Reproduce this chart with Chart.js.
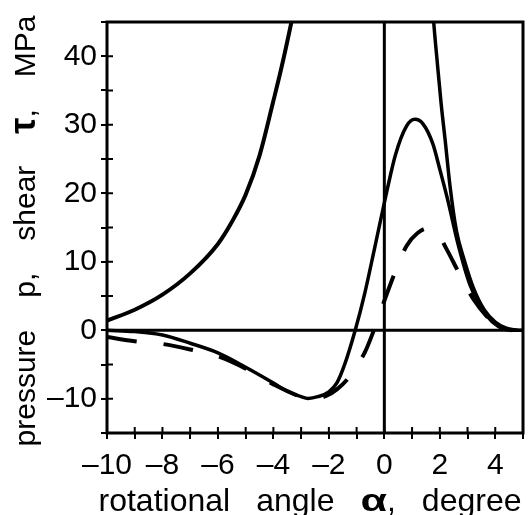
<!DOCTYPE html>
<html>
<head>
<meta charset="utf-8">
<script src="https://cdn.jsdelivr.net/npm/chart.js@4.4.0/dist/chart.umd.min.js"></script>
<style>
  html, body { margin: 0; padding: 0; background: #fff; }
  #wrap { width: 532px; height: 515px; }
</style>
</head>
<body>
<div id="wrap"><canvas id="angleChart" width="532" height="515"></canvas></div>
<script>
// values: angle in degree, value in MPa

// steep solid curve on the left side
const riseAngle = [-10, -9, -8, -7, -6, -5.5, -5, -4.5, -4, -3.7, -3.35, -3.0];
const riseValue = [1.4, 3.0, 5.2, 8.3, 12.6, 15.8, 19.8, 25.5, 33.5, 38.5, 45, 52];

// solid wave (dip then peak)
const waveAngle = [-10, -9, -8, -7, -6, -5, -4, -3.5, -3, -2.75, -2.4, -2, -1.7, -1.44, -1.05,
  -0.7, -0.35, 0, 0.4, 0.8, 1.1, 1.4, 1.75, 2.0, 2.3, 2.65, 3.1, 3.7, 4.1, 4.6, 5];
const waveValue = [0, -0.2, -0.7, -1.9, -3.3, -5.4, -7.7, -8.9, -9.7, -9.95, -9.7, -9.0, -7.6, -5.1, 0,
  5.5, 12, 18.6, 25.6, 29.8, 30.8, 30.1, 27.2, 23.5, 18.8, 12.7, 6.5, 2.1, 0.6, 0, 0];

// dashed curve
const dashAngle = [-10, -9, -8, -7, -6, -5, -4, -3, -2.6, -2.1, -1.7, -1.3, -1.0, -0.7, -0.35,
  0, 0.4, 0.8, 1.2, 1.6, 1.9, 2.25, 2.75, 3.2, 3.7, 4.2, 4.6];
const dashValue = [-1.0, -1.6, -2.0, -2.8, -3.8, -5.6, -7.9, -9.7, -10, -9.6, -8.6, -7.0, -5.2, -3.2, 0.3,
  4.3, 8.6, 12.3, 14.2, 14.9, 14.3, 11.8, 7.9, 4.6, 2.0, 0.3, 0];

// steep solid curve on the right side
const fallAngle = [1.7, 1.78, 1.9, 2.05, 2.2, 2.37, 2.6, 2.9, 3.2, 3.6, 4.0, 4.4, 4.8];
const fallValue = [50, 45, 39.5, 33, 27.5, 21, 14.5, 10, 6.3, 3.0, 1.2, 0.3, 0];

const xTickLabels = [-10, -8, -6, -4, -2, 0, 2, 4];
const yTickLabels = [-10, 0, 10, 20, 30, 40];

const FONT = '"Liberation Sans", Arial, sans-serif';

const pairs = (xs, ys) => xs.map((x, i) => ({ x: x, y: ys[i] }));
const fmt = (v) => (v < 0 ? "\u2013" + Math.abs(v) : String(v));

// draws words centred on the origin, with a fixed gap between words
function drawWords(ctx, parts, gap) {
  let total = 0;
  parts.forEach((p, i) => {
    ctx.font = p.font;
    p.w = ctx.measureText(p.text).width * (p.sx || 1);
    total += p.w + (i && !p.join ? gap : 0);
  });
  let x = -total / 2;
  parts.forEach((p, i) => {
    if (i && !p.join) x += gap;
    ctx.font = p.font;
    ctx.save();
    ctx.translate(x, 0);
    ctx.scale(p.sx || 1, 1);
    ctx.fillText(p.text, 0, 0);
    ctx.restore();
    x += p.w;
  });
}

const framePlugin = {
  id: "frame",
  afterDraw(chart) {
    const { ctx, chartArea: a, scales } = chart;
    const xs = scales.x, ys = scales.y;
    ctx.save();
    ctx.strokeStyle = "#000";
    ctx.fillStyle = "#000";

    // zero lines
    ctx.lineWidth = 3;
    const x0 = xs.getPixelForValue(0), y0 = ys.getPixelForValue(0);
    ctx.beginPath();
    ctx.moveTo(x0, a.top); ctx.lineTo(x0, a.bottom);
    ctx.moveTo(a.left, y0); ctx.lineTo(a.right, y0);
    ctx.stroke();

    // ticks reaching into the plot
    ctx.lineWidth = 2;
    ctx.beginPath();
    xs.ticks.forEach((t) => {
      const px = xs.getPixelForValue(t.value);
      ctx.moveTo(px, a.bottom); ctx.lineTo(px, a.bottom - 6);
    });
    ys.ticks.forEach((t) => {
      const py = ys.getPixelForValue(t.value);
      ctx.moveTo(a.left, py); ctx.lineTo(a.left + 6, py);
    });
    ctx.stroke();

    // frame
    ctx.lineWidth = 3;
    ctx.strokeRect(a.left, a.top, a.right - a.left, a.bottom - a.top);

    // axis titles
    ctx.textBaseline = "alphabetic";
    ctx.textAlign = "left";
    const reg = "32px " + FONT;
    ctx.save();
    ctx.translate(310, 511);
    drawWords(ctx, [
      { text: "rotational", font: reg },
      { text: "angle", font: reg },
      { text: "\u03b1", font: "bold 32px " + FONT, sx: 1.35 },
      { text: ",", font: reg, join: true },
      { text: "degree", font: reg }
    ], 26);
    ctx.restore();

    ctx.save();
    ctx.translate(35, 231);
    ctx.rotate(-Math.PI / 2);
    const yreg = "30px " + FONT;
    drawWords(ctx, [
      { text: "pressure", font: yreg },
      { text: "p,", font: yreg },
      { text: "shear", font: yreg },
      { text: "\u03c4", font: "bold 36px " + FONT },
      { text: ",", font: yreg, join: true },
      { text: "MPa", font: yreg }
    ], 32);
    ctx.restore();

    ctx.restore();
  }
};

const lineStyle = {
  borderColor: "#000",
  pointRadius: 0,
  fill: false,
  cubicInterpolationMode: "monotone",
  clip: 0
};

new Chart(document.getElementById("angleChart"), {
  type: "line",
  data: {
    datasets: [
      { ...lineStyle, data: pairs(riseAngle, riseValue), borderWidth: 4 },
      { ...lineStyle, data: pairs(waveAngle, waveValue), borderWidth: 3.5 },
      { ...lineStyle, data: pairs(dashAngle, dashValue), borderWidth: 4, borderDash: [30, 27] },
      { ...lineStyle, data: pairs(fallAngle, fallValue), borderWidth: 3.5 }
    ]
  },
  options: {
    responsive: false,
    animation: false,
    layout: { padding: { top: 19, right: 1, left: 0, bottom: 0 } },
    plugins: { legend: { display: false }, tooltip: { enabled: false } },
    scales: {
      x: {
        type: "linear",
        min: -10,
        max: 5,
        afterFit: (s) => { s.height = 82; },
        border: { display: false },
        grid: { drawOnChartArea: false, tickLength: 6, color: "#000", lineWidth: 2 },
        ticks: {
          stepSize: 1,
          autoSkip: false,
          maxRotation: 0,
          padding: 9,
          color: "#000",
          font: { family: FONT, size: 30 },
          callback: (v) => (xTickLabels.includes(v) ? fmt(v) : "")
        }
      },
      y: {
        min: -15,
        max: 45,
        afterFit: (s) => { s.width = 107; },
        border: { display: false },
        grid: { drawOnChartArea: false, tickLength: 6, color: "#000", lineWidth: 2 },
        ticks: {
          stepSize: 5,
          autoSkip: false,
          padding: 4,
          color: "#000",
          font: { family: FONT, size: 30 },
          callback: (v) => (yTickLabels.includes(v) ? fmt(v) : "")
        }
      }
    }
  },
  plugins: [framePlugin]
});
</script>
</body>
</html>
